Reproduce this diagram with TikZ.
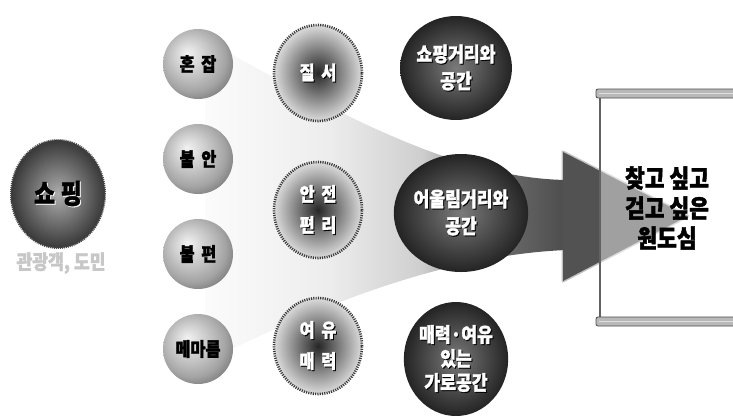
\documentclass[tikz,border=0pt]{standalone}
\usepackage{fontspec}
\newfontfamily\kr{Noto Sans CJK KR}[FakeStretch=0.86, BoldFeatures={FakeBold=1.6}]
\usetikzlibrary{shapes.geometric}
\pgfdeclarehorizontalshading{funnelshade}{100bp}{color(0bp)=(gray!3); color(25bp)=(gray!3); color(42bp)=(gray!14); color(55bp)=(gray!38); color(66bp)=(black!58); color(75bp)=(black!70); color(100bp)=(black!70)}
\pgfdeclareradialshading{spheregray}{\pgfpoint{-8bp}{8bp}}{color(0bp)=(gray!10); color(12bp)=(gray!40); color(24bp)=(gray!72); color(34bp)=(black!58); color(50bp)=(black!58)}
\newcommand\fs[2]{\fontsize{#1}{#2}\selectfont}
\newcommand\sht[1]{\makebox[0pt][l]{\hspace{1pt}\raisebox{-1pt}{\color{black}#1}}#1}
\newcommand\shw[1]{\makebox[0pt][l]{\hspace{1pt}\raisebox{-1pt}{\color{white}#1}}#1}
\tikzset{
  leftell/.style={ellipse, minimum width=94pt, minimum height=108pt, inner sep=0pt,
    inner color=black!32, outer color=black!78, draw=black!72, line width=2pt,
    dash pattern=on 1pt off 1pt, font=\kr\bfseries\fs{27}{30}, text=black},
  graytxt/.style={font=\kr\bfseries\fs{20}{22}, text=black!22},
  ballnode/.style={circle, minimum size=70pt, inner sep=0pt, shading=spheregray,
    font=\kr\bfseries\fs{19}{22}, text=black},
  dotnode/.style={ellipse, minimum width=88pt, minimum height=96pt, inner sep=0pt,
    inner color=black!85, outer color=gray!28, draw=black!78, line width=2.6pt,
    dash pattern=on 1.1pt off 1.2pt, text=white, align=center, font=\kr\bfseries\fs{19}{31}},
  darknode/.style={ellipse, inner sep=0pt, inner color=black!52, outer color=black!86,
    text=white, align=center, font=\kr\bfseries\fs{20}{27}},
  boxtext/.style={align=center, font=\kr\bfseries\fs{25}{30}, text=black}
}
\begin{document}
\begin{tikzpicture}[x=1pt,y=-1pt]
\useasboundingbox (0,0) rectangle (733,418);
\fill[white] (0,0) rectangle (733,418);
% funnel and shaft
\shade[shading=funnelshade] (205,40) .. controls (330,108) and (450,178) .. (566,180)
  -- (566,250) .. controls (450,255) and (330,300) .. (205,362) -- cycle;
% arrow head
\coordinate (headtop) at (563,152);
\coordinate (headtip) at (688,216);
\coordinate (headbot) at (563,281);
\draw[black!68, line width=3pt, draw opacity=0.35, fill=black!68, line join=round]
  (headtop) -- (headtip) -- (headbot) -- cycle;
% left ellipse
\node[leftell] (shop) at (58,194) {\shw{쇼\hspace{0.2em}핑}};
\node[graytxt] (tourist) at (61,263) {관광객, 도민};
% column 1
\node[ballnode] (honjap) at (198,64) {혼\hspace{0.35em}잡};
\node[ballnode] (buran) at (198,159) {불\hspace{0.35em}안};
\node[ballnode] (bulpyeon) at (198,254) {불\hspace{0.35em}편};
\node[ballnode] (memareum) at (198,349) {메마름};
% column 2
\node[dotnode] (jilseo) at (318,73) {\sht{질\hspace{0.35em}서}};
\node[dotnode] (anjeon) at (318,210) {\sht{안\hspace{0.35em}전}\\\sht{편\hspace{0.35em}리}};
\node[dotnode] (yeoyu) at (318,346) {\sht{여\hspace{0.35em}유}\\\sht{매\hspace{0.35em}력}};
% column 3
\node[darknode, minimum width=100pt, minimum height=104pt] (shopst) at (456,68) {\sht{쇼핑거리와}\\\sht{공간}};
\node[darknode, minimum width=112pt, minimum height=118pt] (eoul) at (461,213) {\sht{어울림거리와}\\\sht{공간}};
\node[darknode, minimum width=100pt, minimum height=114pt, font=\kr\bfseries\fs{20}{24}] (maeryeok) at (456,359) {\sht{매력·여유}\\\sht{있는}\\\sht{가로공간}};
% scroll box
\fill[white, fill opacity=0.45] (600,97) rectangle (733,318);
\draw[black!62, line width=1.6pt] (600,96) -- (600,319);
\draw[black!70, fill=gray!55, line width=0.8pt, rounded corners=2pt] (596,89) rectangle (740,98);
\draw[white!75!gray, line width=1.6pt] (599,93.5) -- (733,93.5);
\draw[black!70, fill=gray!55, line width=0.8pt, rounded corners=2pt] (596,317) rectangle (740,326);
\draw[white!75!gray, line width=1.6pt] (599,321.5) -- (733,321.5);
\node[boxtext] (goal) at (667,208) {찾고 싶고\\걷고 싶은\\원도심};
\end{tikzpicture}
\end{document}
